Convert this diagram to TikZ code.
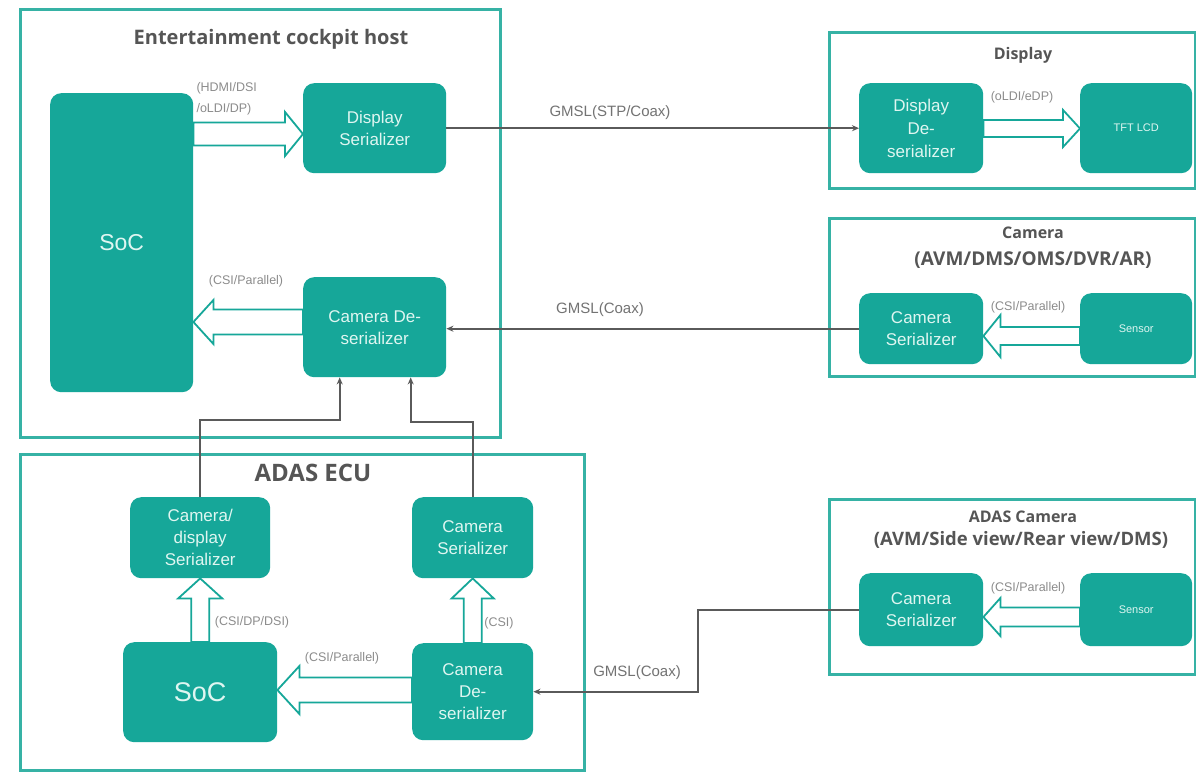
\documentclass[tikz,border=0pt]{standalone}
\usepackage{fontspec}
\setmainfont{Liberation Sans}
\newfontfamily\headfont{Open Sans}
\usetikzlibrary{calc,arrows.meta}
\definecolor{blk}{HTML}{16A799}
\definecolor{frm}{HTML}{36B2A5}
\definecolor{btxt}{HTML}{DFF6F1}
\definecolor{lnc}{HTML}{5A5A5A}
\definecolor{lbl}{HTML}{8C8C8C}
\definecolor{hdc}{HTML}{555555}
\newcommand\fs[2]{\fontsize{#1}{#2}\selectfont}
% horizontal fat arrow: start, tip, half shaft, half head, head length
\newcommand\hfat[5]{\draw[fat] let \p1=#1, \p2=#2, \n1={sign(\x2-\x1)} in
  (\x1,{\y1+#3pt}) -- ({\x2-(\n1)*#5pt},{\y1+#3pt}) -- ({\x2-(\n1)*#5pt},{\y1+#4pt}) -- (\x2,\y1)
  -- ({\x2-(\n1)*#5pt},{\y1-#4pt}) -- ({\x2-(\n1)*#5pt},{\y1-#3pt}) -- (\x1,{\y1-#3pt}) -- cycle;}
% vertical fat arrow
\newcommand\vfat[5]{\draw[fat] let \p1=#1, \p2=#2, \n1={sign(\y2-\y1)} in
  ({\x1+#3pt},\y1) -- ({\x1+#3pt},{\y2-(\n1)*#5pt}) -- ({\x1+#4pt},{\y2-(\n1)*#5pt}) -- (\x1,\y2)
  -- ({\x1-#4pt},{\y2-(\n1)*#5pt}) -- ({\x1-#3pt},{\y2-(\n1)*#5pt}) -- ({\x1-#3pt},\y1) -- cycle;}
\tikzset{
 frame/.style={draw=frm, line width=2.8pt, anchor=north west, inner sep=0pt},
 block/.style={fill=blk, rounded corners=11pt, anchor=north west, text=btxt, align=center, inner sep=2pt, font=\fs{17}{22}},
 head/.style={text=hdc, font=\headfont\bfseries\fs{16}{19}},
 lab/.style={text=lbl, font=\fs{12.5}{14}},
 glab/.style={text=lnc!85, font=\fs{15}{17}},
 conn/.style={draw=lnc, line width=1.6pt, -{Stealth[length=7pt,width=6pt]}},
 fat/.style={draw=blk, line width=1.8pt, fill=white, line join=miter},
}
\begin{document}
\begin{tikzpicture}[x=1pt,y=-1pt]
\fill[white] (0,0) rectangle (1196,771);
\useasboundingbox (0,0) rectangle (1196,771);
% frames
\node[frame, minimum width=480pt, minimum height=428pt] (host) at (19,8) {};
\node[frame, minimum width=564pt, minimum height=316pt] (ecu) at (19,453) {};
\node[frame, minimum width=366pt, minimum height=156pt] (disp) at (828,31) {};
\node[frame, minimum width=366pt, minimum height=158pt] (cam) at (828,217) {};
\node[frame, minimum width=366pt, minimum height=175pt] (acam) at (828,498) {};
% headers
\node[head, font=\headfont\bfseries\fs{20}{24}] (hostt) at (271,39) {Entertainment cockpit host};
\node[head, font=\headfont\bfseries\fs{24}{28}] (ecut) at (313,473) {ADAS ECU};
\node[head] (dispt) at (1023,55) {Display};
\node[head] (camt1) at (1033,233) {Camera};
\node[head, font=\headfont\bfseries\fs{19}{22}] (camt2) at (1033,260) {(AVM/DMS/OMS/DVR/AR)};
\node[head] (acamt1) at (1023,517) {ADAS Camera};
\node[head, font=\headfont\bfseries\fs{18.5}{22}] (acamt2) at (1021,540) {(AVM/Side view/Rear view/DMS)};
% blocks: host
\node[block, minimum width=143pt, minimum height=299pt, font=\fs{23}{26}] (soc1) at (50,93) {SoC};
\node[block, minimum width=143pt, minimum height=90pt] (dser) at (303,83) {Display\\Serializer};
\node[block, minimum width=143pt, minimum height=100pt] (cdes) at (303,277) {Camera De-\\serializer};
% display
\node[block, minimum width=124pt, minimum height=90pt, font=\fs{17}{23}] (ddes) at (859,83) {Display\\De-\\serializer};
\node[block, minimum width=112pt, minimum height=90pt, font=\fs{11}{13}] (tft) at (1080,83) {TFT LCD};
% camera
\node[block, minimum width=124pt, minimum height=71pt] (cser) at (859,293) {Camera\\Serializer};
\node[block, minimum width=112pt, minimum height=71pt, font=\fs{11}{13}] (sens1) at (1080,293) {Sensor};
% ADAS ECU
\node[block, minimum width=140pt, minimum height=81pt] (cdser) at (130,497) {Camera/\\display\\Serializer};
\node[block, minimum width=121pt, minimum height=81pt] (aser) at (412,497) {Camera\\Serializer};
\node[block, minimum width=154pt, minimum height=100pt, font=\fs{27}{30}] (soc2) at (123,642) {SoC};
\node[block, minimum width=121pt, minimum height=97pt] (ades) at (412,643) {Camera\\De-\\serializer};
% ADAS camera
\node[block, minimum width=124pt, minimum height=73pt] (cser2) at (859,573) {Camera\\Serializer};
\node[block, minimum width=112pt, minimum height=73pt, font=\fs{11}{13}] (sens2) at (1080,573) {Sensor};
% fat arrows
\hfat{(soc1.east |- 0,134)}{(dser.west |- 0,134)}{11.5}{22}{18}
\hfat{(cdes.west |- 0,322)}{(soc1.east |- 0,322)}{12.5}{22}{20}
\hfat{(ddes.east |- 0,128.5)}{(tft.west |- 0,128.5)}{8.5}{18.5}{17}
\hfat{(sens1.west |- 0,336)}{(cser.east |- 0,336)}{9}{21}{17}
\hfat{(sens2.west |- 0,617)}{(cser2.east |- 0,617)}{9.5}{19}{17}
\hfat{(ades.west |- 0,690)}{(soc2.east |- 0,690)}{12.5}{24}{22}
\vfat{(soc2.north)}{(cdser.south)}{9}{22}{20}
\vfat{(ades.north)}{(aser.south)}{9}{21}{20}
% connectors
\draw[conn] (dser.east) -- (ddes.west);
\draw[conn] (cser.west) -- (cser.west -| cdes.east);
\draw[conn] (cdser.north) -- ++(0,-77) -| ($(cdes.south)+(-35,0)$);
\draw[conn] (aser.north) -- ++(0,-75) -| ($(cdes.south)+(36,0)$);
\draw[conn] (cser2.west) -- ++(-161,0) |- (ades.east);
% labels
\node[lab, align=left, anchor=north west, font=\fs{12.5}{21}] (l1) at (193,79) {(HDMI/DSI\\/oLDI/DP)};
\node[lab] (l2) at (246,281) {(CSI/Parallel)};
\node[glab] (g1) at (610,113) {GMSL(STP/Coax)};
\node[lab] (l3) at (1022,97) {(oLDI/eDP)};
\node[glab] (g2) at (600,310) {GMSL(Coax)};
\node[lab] (l4) at (1028,307) {(CSI/Parallel)};
\node[lab] (l5) at (1028,588) {(CSI/Parallel)};
\node[lab] (l6) at (252,622) {(CSI/DP/DSI)};
\node[lab] (l7) at (342,658) {(CSI/Parallel)};
\node[lab] (l8) at (499,623) {(CSI)};
\node[glab] (g3) at (637,673) {GMSL(Coax)};
\end{tikzpicture}
\end{document}
